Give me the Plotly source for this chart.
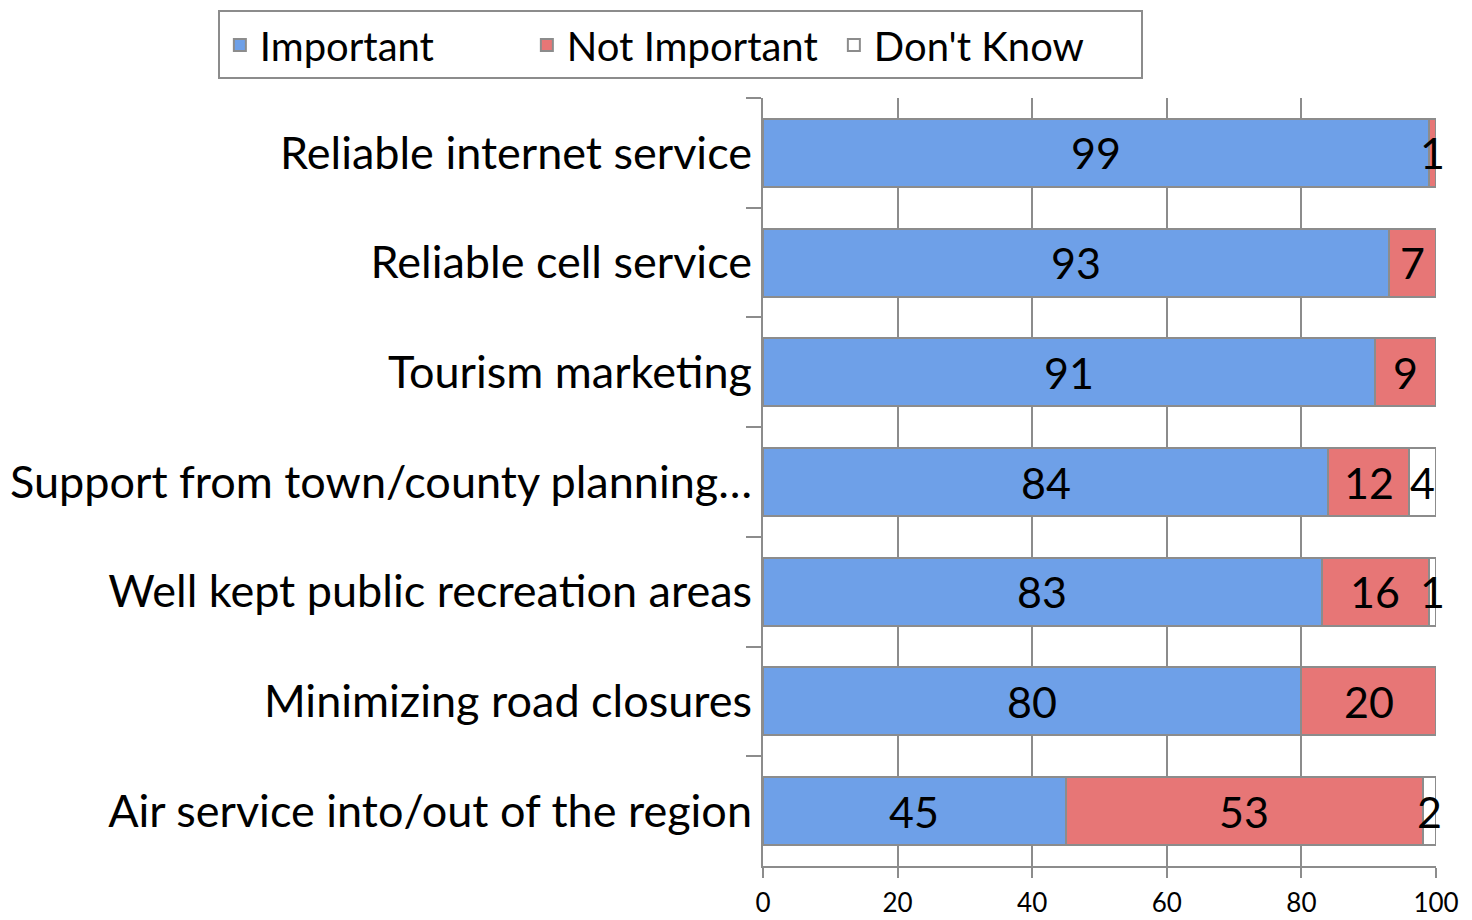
import plotly.graph_objects as go

# survey items (top to bottom as shown)
items = ["Reliable internet service", "Reliable cell service", "Tourism marketing",
         "Support from town/county planning…", "Well kept public recreation areas",
         "Minimizing road closures", "Air service into/out of the region"]
important = [99, 93, 91, 84, 83, 80, 45]
not_important = [1, 7, 9, 12, 16, 20, 53]
dont_know = [0, 0, 0, 4, 1, 0, 2]

series = [("Important", important, "#6ea0e8"),
          ("Not Important", not_important, "#e77676"),
          ("Don't Know", dont_know, "#ffffff")]

font = "Lato, Open Sans, sans-serif"

fig = go.Figure()
for name, vals, col in series:
    fig.add_trace(go.Bar(y=items, x=vals, name=name, orientation="h",
                         marker=dict(color=col, line=dict(color="#8c8c8c", width=2))))

# value labels centred on each segment (zeros are not labelled)
annotations = []
for i, item in enumerate(items):
    left = 0
    for name, vals, col in series:
        v = vals[i]
        if v > 0:
            annotations.append(dict(x=left + v / 2, y=item, text=str(v), showarrow=False,
                                    font=dict(size=43, color="black", family=font)))
        left += v

# page body has an 8px margin, so the figure is a bit smaller than the window
fig.update_layout(
    barmode="stack",
    bargap=0.38,
    width=1464, height=912,
    margin=dict(l=755, r=36, t=90, b=54, autoexpand=False),
    paper_bgcolor="white", plot_bgcolor="white",
    font=dict(family=font, color="black"),
    annotations=annotations,
    legend=dict(orientation="h", x=-0.81, xanchor="left", y=1.114, yanchor="top",
                font=dict(size=40), bordercolor="#8c8c8c", borderwidth=2,
                traceorder="normal", itemwidth=30, entrywidth=262),
    showlegend=True,
)
fig.update_xaxes(range=[0, 100], tickvals=[0, 20, 40, 60, 80, 100], automargin=False,
                 showgrid=True, gridcolor="#8c8c8c", gridwidth=2,
                 ticks="outside", ticklen=10, tickcolor="#8c8c8c", tickwidth=2,
                 tickfont=dict(size=26), zeroline=False, ticklabelstandoff=3,
                 showline=True, linecolor="#8c8c8c", linewidth=2)
fig.update_yaxes(autorange="reversed", tickson="boundaries", ticks="outside", automargin=False,
                 ticklen=15, tickcolor="#8c8c8c", tickwidth=2,
                 showline=True, linecolor="#8c8c8c", linewidth=2,
                 tickfont=dict(size=45), showgrid=False)

fig.write_html("out.html")
